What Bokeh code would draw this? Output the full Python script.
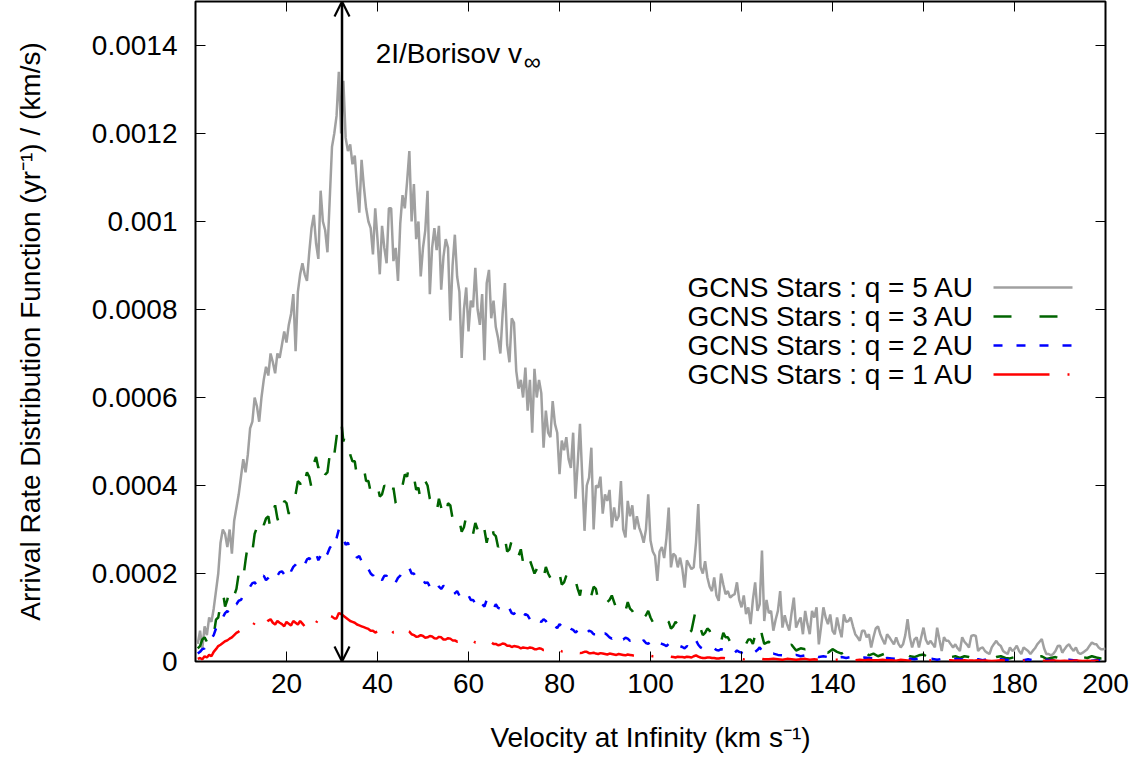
import numpy as np
from bokeh.plotting import figure
from bokeh.models import (Range1d, FixedTicker, LinearAxis, Label, Arrow, OpenHead,
                          CustomLabelingPolicy)
from bokeh.embed import file_html
from bokeh.resources import INLINE

# ---------------- data (arrival rate, units of 1e-6 (yr^-1)/(km/s)) ----------------
# q = 5 AU, 0.5 km/s bins (0.5 ... 200)
v_q5 = np.arange(1, 401) * 0.5
rate_q5 = [
    40, 70, 30, 80, 60, 100, 90, 120, 160, 200,
    270, 300, 290, 260, 300, 245, 320, 350, 380, 420,
    460, 430, 470, 530, 545, 600, 580, 545, 600, 640,
    670, 650, 700, 680, 655, 700, 690, 720, 750, 725,
    765, 790, 835, 705, 840, 880, 905, 880, 865, 930,
    985, 1015, 950, 915, 1070, 1000, 980, 930, 1050, 1170,
    1200, 1240, 1340, 1200, 1320, 1190, 1160, 1175, 1130, 1150,
    1080, 1020, 1140, 1080, 1030, 1000, 985, 925, 1030, 960,
    880, 990, 940, 905, 1030, 1030, 910, 940, 865, 995,
    1060, 1030, 1090, 1160, 1000, 1085, 960, 1000, 875, 940,
    980, 1070, 835, 940, 985, 935, 990, 845, 920, 960,
    940, 775, 900, 970, 875, 840, 690, 800, 850, 750,
    820, 805, 895, 800, 765, 835, 685, 860, 890, 780,
    820, 760, 735, 700, 790, 860, 720, 680, 780, 770,
    660, 620, 640, 600, 668, 570, 640, 520, 665, 600,
    640, 610, 486, 570, 520, 510, 592, 540, 520, 426,
    502, 480, 510, 460, 440, 520, 370, 450, 540, 420,
    297, 400, 418, 486, 300, 400, 395, 420, 336, 380,
    365, 390, 305, 350, 320, 330, 410, 300, 282, 365,
    330, 355, 300, 330, 305, 290, 270, 300, 380, 275,
    250, 240, 183, 250, 260, 235, 280, 350, 214, 245,
    240, 214, 236, 210, 168, 230, 220, 210, 214, 270,
    358, 214, 200, 228, 191, 170, 160, 191, 150, 138,
    200, 175, 153, 160, 145, 150, 153, 180, 140, 123,
    150, 108, 123, 85, 140, 180, 115, 130, 252, 92,
    140, 110, 115, 70, 95, 115, 160, 77, 105, 85,
    70, 110, 145, 77, 90, 100, 62, 115, 85, 62,
    115, 100, 123, 39, 80, 123, 100, 85, 107, 70,
    62, 100, 75, 55, 107, 90, 92, 100, 80, 62,
    55, 47, 70, 70, 55, 62, 32, 55, 75, 80,
    62, 50, 39, 62, 55, 47, 39, 55, 40, 32,
    39, 60, 96, 55, 32, 50, 55, 32, 55, 77,
    50, 39, 47, 40, 32, 77, 50, 24, 55, 47,
    47, 39, 32, 39, 30, 24, 55, 45, 39, 32,
    58, 60, 58, 24, 30, 32, 24, 20, 17, 32,
    40, 47, 39, 35, 24, 20, 17, 32, 24, 28,
    36, 24, 17, 32, 28, 24, 17, 24, 30, 39,
    45, 51, 30, 17, 17, 14, 17, 24, 35, 36,
    20, 28, 35, 39, 30, 24, 32, 20, 17, 20,
    24, 28, 36, 43, 40, 39, 32, 28, 28, 30,
]

# q = 3, 2, 1 AU: 0.5 km/s bins up to 125 km/s, then 1 km/s bins up to 200 km/s
v_q = np.concatenate([np.arange(1, 251) * 0.5, np.arange(126, 201) * 1.0])
rate_q3 = [
    30, 35, 50, 55, 45, 75, 70, 60, 95, 100,
    130, 160, 125, 140, 170, 175, 150, 165, 200, 215,
    190, 230, 265, 275, 250, 290, 305, 300, 280, 310,
    325, 330, 300, 340, 355, 325, 310, 340, 365, 360,
    335, 375, 390, 380, 410, 405, 380, 410, 430, 420,
    395, 450, 465, 440, 465, 460, 425, 430, 470, 495,
    470, 510, 555, 550, 500, 520, 490, 470, 455, 455,
    420, 430, 445, 440, 410, 410, 385, 385, 410, 400,
    375, 380, 400, 395, 365, 370, 395, 360, 350, 375,
    400, 425, 420, 450, 430, 420, 390, 395, 365, 380,
    410, 400, 370, 360, 330, 340, 370, 350, 320, 330,
    360, 355, 325, 335, 310, 320, 295, 305, 330, 310,
    285, 290, 315, 300, 270, 280, 300, 270, 295, 320,
    290, 285, 260, 270, 295, 280, 250, 255, 275, 245,
    230, 240, 255, 225, 215, 245, 230, 215, 200, 210,
    225, 200, 190, 215, 200, 190, 175, 185, 205, 200,
    175, 180, 195, 185, 165, 170, 185, 165, 150, 180,
    165, 160, 145, 150, 170, 165, 140, 145, 160, 155,
    135, 140, 150, 135, 120, 130, 140, 125, 115, 135,
    120, 115, 105, 110, 125, 120, 100, 105, 115, 100,
    90, 95, 105, 100, 85, 85, 95, 90, 75, 80,
    90, 85, 70, 75, 85, 80, 65, 70, 95, 120,
    90, 75, 60, 65, 75, 70, 55, 60, 70, 55,
    45, 65, 55, 55, 45, 50, 60, 60, 50, 45,
    35, 40, 50, 50, 40, 60, 70, 90, 60, 40,
    45, 35, 45, 30, 35,
    38, 25, 30, 28, 35, 22, 30, 25, 20, 28,
    22, 18, 25, 20, 18, 15, 22, 14, 18, 12,
    16, 20, 12, 10, 15, 18, 12, 10, 14, 16,
    9, 12, 10, 14, 8, 10, 12, 8, 12, 10,
    7, 10, 12, 8, 6, 10, 12, 8, 7, 10,
    12, 6, 9, 8, 10, 12, 6, 8, 10, 7,
    9, 12, 8, 6, 10, 8, 12, 9, 7, 8,
]
rate_q2 = [
    18, 22, 28, 30, 38, 45, 52, 60, 75, 85,
    95, 100, 110, 115, 108, 120, 128, 130, 138, 140,
    150, 155, 162, 170, 178, 180, 172, 185, 192, 195,
    185, 190, 198, 200, 192, 195, 203, 205, 198, 210,
    215, 205, 215, 220, 228, 225, 218, 220, 232, 235,
    228, 240, 246, 230, 240, 250, 238, 245, 258, 265,
    260, 280, 300, 295, 280, 265, 270, 255, 250, 245,
    236, 240, 228, 230, 218, 210, 200, 195, 205, 200,
    190, 185, 195, 195, 182, 185, 178, 180, 190, 195,
    205, 205, 214, 212, 200, 200, 190, 190, 182, 185,
    178, 180, 170, 175, 182, 180, 170, 165, 172, 170,
    162, 160, 152, 155, 160, 150, 142, 145, 152, 150,
    140, 140, 132, 135, 142, 130, 125, 140, 132, 125,
    120, 130, 122, 120, 112, 115, 122, 120, 110, 108,
    115, 110, 102, 100, 108, 105, 96, 95, 102, 100,
    92, 90, 96, 92, 84, 85, 90, 80, 76, 85,
    80, 75, 70, 78, 74, 72, 66, 70, 76, 75,
    68, 65, 70, 68, 62, 62, 66, 60, 56, 64,
    60, 55, 52, 58, 54, 55, 50, 50, 54, 52,
    47, 48, 52, 50, 45, 45, 48, 42, 40, 46,
    43, 40, 37, 42, 40, 38, 35, 40, 37, 35,
    32, 37, 35, 33, 30, 35, 32, 30, 40, 48,
    38, 32, 29, 30, 27, 28, 31, 30, 26, 25,
    28, 27, 23, 24, 26, 22, 20, 25, 22, 20,
    18, 22, 19, 18, 20, 22, 26, 32, 24, 18,
    16, 18, 15, 14, 16,
    13, 15, 12, 14, 11, 13, 10, 12, 10, 11,
    9, 10, 8, 10, 9, 7, 9, 8, 7, 9,
    6, 8, 7, 6, 7, 8, 6, 5, 7, 6,
    5, 6, 4, 6, 5, 4, 6, 5, 4, 5,
    4, 5, 3, 5, 4, 3, 5, 4, 3, 4,
    4, 3, 5, 3, 4, 3, 4, 3, 2, 4,
    3, 4, 3, 2, 4, 3, 2, 3, 3, 2,
]
rate_q1 = [
    6, 8, 5, 12, 9, 15, 12, 22, 28, 35,
    38, 42, 46, 48, 52, 55, 60, 65, 68, 72,
    75, 78, 82, 85, 80, 88, 92, 84, 88, 90,
    86, 93, 96, 88, 84, 92, 88, 85, 80, 90,
    86, 82, 92, 88, 84, 92, 86, 80, 76, 88,
    92, 94, 88, 96, 92, 90, 96, 100, 104, 102,
    98, 98, 110, 108, 104, 100, 96, 92, 90, 88,
    84, 82, 80, 78, 76, 74, 70, 70, 66, 68,
    64, 65, 68, 70, 64, 62, 67, 66, 60, 60,
    62, 64, 70, 68, 62, 60, 56, 57, 60, 58,
    54, 55, 58, 57, 53, 52, 56, 55, 50, 50,
    53, 52, 48, 48, 45, 46, 49, 48, 44, 45,
    48, 47, 43, 43, 46, 45, 41, 42, 45, 44,
    40, 40, 37, 38, 41, 40, 36, 36, 33, 35,
    34, 33, 30, 32, 31, 30, 32, 31, 28, 28,
    30, 29, 26, 27, 29, 28, 25, 25, 27, 26,
    23, 24, 25, 23, 21, 22, 23, 21, 19, 20,
    22, 22, 19, 19, 20, 18, 17, 19, 18, 17,
    16, 18, 17, 16, 15, 17, 16, 15, 14, 16,
    15, 14, 13, 15, 14, 13, 12, 14, 13, 13,
    12, 12, 11, 13, 12, 11, 10, 12, 11, 10,
    9, 11, 10, 10, 9, 11, 10, 9, 12, 14,
    11, 9, 8, 8, 9, 9, 8, 8, 7, 7,
    8, 8, 7, 7, 6, 6, 7, 7, 6, 6,
    5, 6, 5, 5, 6, 7, 6, 8, 6, 5,
    5, 6, 5, 4, 6,
    5, 4, 5, 6, 4, 5, 4, 3, 5, 4,
    4, 3, 5, 4, 3, 4, 3, 4, 3, 3,
    4, 3, 3, 2, 4, 3, 2, 3, 3, 2,
    3, 2, 3, 2, 2, 3, 2, 2, 3, 2,
    2, 3, 2, 2, 1, 2, 3, 2, 2, 1,
    2, 2, 1, 2, 3, 2, 1, 2, 2, 1,
    2, 1, 2, 2, 1, 2, 1, 2, 1, 2,
]
unit = 1e-6
borisov_vinf = 32.2  # km/s

series_labels = ["GCNS Stars : q = 5 AU", "GCNS Stars : q = 3 AU",
                 "GCNS Stars : q = 2 AU", "GCNS Stars : q = 1 AU"]
x_ticks = [20, 40, 60, 80, 100, 120, 140, 160, 180, 200]
y_ticks = [0, 0.0002, 0.0004, 0.0006, 0.0008, 0.001, 0.0012, 0.0014]
y_tick_labels = ["0", "0.0002", "0.0004", "0.0006", "0.0008", "0.001", "0.0012", "0.0014"]

# ---------------- styling ----------------
FONT = "Liberation Sans"
FS = "28px"
colors = ["#a0a0a0", "#006400", "#0000ff", "#ff0000"]
dashes = ["solid", "18 28", "9 14", "56 18 2 18"]
LW = 2.5

p = figure(frame_width=910, frame_height=660,
           x_range=Range1d(0, 200), y_range=Range1d(0, 0.0015),
           output_backend="svg", toolbar_location=None,
           min_border_left=195, min_border_right=34,
           min_border_top=1, min_border_bottom=94)
p.background_fill_color = "white"
p.border_fill_color = "white"
p.outline_line_color = "black"
p.outline_line_width = 2
p.grid.visible = False

hide_labels = CustomLabelingPolicy(code="""
try { for (const i of Array.from(indices)) { indices.unset(i) } } catch (e) {}
return indices
""")

def style_axis(ax, labels=True):
    ax.axis_line_color = None
    ax.major_tick_in = 10
    ax.major_tick_out = 0
    ax.major_tick_line_color = "black"
    ax.major_tick_line_width = 1
    ax.minor_tick_line_color = None
    if labels:
        ax.major_label_text_font = FONT
        ax.major_label_text_font_size = FS
        ax.major_label_text_color = "black"
        ax.axis_label_text_font = FONT
        ax.axis_label_text_font_size = FS
        ax.axis_label_text_font_style = "normal"
        ax.axis_label_text_color = "black"
    else:
        ax.major_label_policy = hide_labels
        ax.major_label_text_font_size = "0px"
        ax.major_label_standoff = 0

xa = p.xaxis[0]
xa.ticker = FixedTicker(ticks=x_ticks)
style_axis(xa)
xa.major_label_standoff = 12
xa.axis_label = "Velocity at Infinity (km s\u207b\u00b9)"
xa.axis_label_standoff = 26

ya = p.yaxis[0]
ya.ticker = FixedTicker(ticks=y_ticks)
ya.major_label_overrides = {t: s for t, s in zip(y_ticks, y_tick_labels)}
style_axis(ya)
ya.major_label_standoff = 18
ya.axis_label = "Arrival Rate Distribution Function (yr\u207b\u00b9) / (km/s)"
ya.axis_label_standoff = 43

ra = LinearAxis(ticker=FixedTicker(ticks=y_ticks))
style_axis(ra, labels=False)
p.add_layout(ra, "right")
ta = LinearAxis(ticker=FixedTicker(ticks=x_ticks))
style_axis(ta, labels=False)
p.add_layout(ta, "above")

# ---------------- curves ----------------
xs = [v_q5, v_q, v_q, v_q]
ys = [rate_q5, rate_q3, rate_q2, rate_q1]
for x, y, c, d in zip(xs, ys, colors, dashes):
    p.line(x, np.array(y) * unit, line_color=c, line_width=LW, line_dash=d)

# ---------------- 2I/Borisov arrow ----------------
y_top = p.y_range.end
p.add_layout(Arrow(x_start=borisov_vinf, y_start=0, x_end=borisov_vinf, y_end=y_top,
                   start=OpenHead(size=15, line_width=2.2, line_color="black"),
                   end=OpenHead(size=15, line_width=2.2, line_color="black"),
                   line_width=2.5, line_color="black"))
p.add_layout(Label(x=39.6, y=0.001382, text="2I/Borisov v", text_font=FONT,
                   text_font_size=FS, text_baseline="alphabetic", text_color="black"))
p.add_layout(Label(x=39.6, y=0.001382, x_offset=148, y_offset=-8, text="\u221e",
                   text_font=FONT, text_font_size="24px", text_baseline="alphabetic",
                   text_color="black"))

# ---------------- key (text left, sample right), frame screen units ----------------
key_y = [374, 345, 316, 287]
for lab, c, d, ky in zip(series_labels, colors, dashes, key_y):
    p.add_layout(Label(x=779, y=ky, x_units="screen", y_units="screen", text=lab,
                       text_font=FONT, text_font_size=FS, text_align="right",
                       text_baseline="middle", text_color="black"))
    p.add_layout(Arrow(x_start=798, y_start=ky, x_end=877, y_end=ky,
                       start_units="screen", end_units="screen", start=None, end=None,
                       line_color=c, line_width=LW, line_dash=d))

open("out.html", "w").write(file_html(p, INLINE))
